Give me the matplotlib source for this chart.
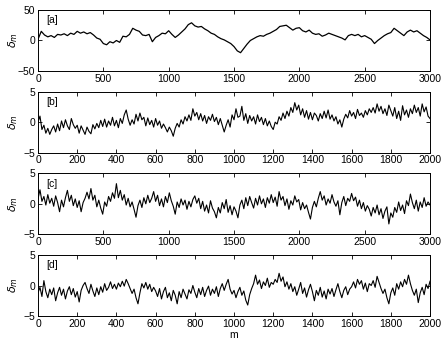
import matplotlib
matplotlib.use('Agg')
import matplotlib.pyplot as plt
import numpy as np

plt.rcParams['font.family'] = ['Liberation Sans', 'DejaVu Sans']
plt.rcParams['mathtext.fontset'] = 'dejavusans'

# ---------------------------------------------------------
# Data (values at regular m steps)
# ---------------------------------------------------------
# panel [a]: m = 0, 25, ..., 3000
delta_a = [
    2, 15, 9, 6, 8, 5, 10, 9, 11, 8, 12, 10, 15, 12, 14, 11, 13, 9, 4, 2,
    -5, -7, -2, -4, 0, -3, 7, 6, 10, 20, 17, 15, 9, 8, 10, -2, 5, 8, 12, 11,
    16, 10, 5, 9, 14, 19, 26, 29, 24, 22, 23, 19, 16, 12, 10, 6, 3, 1, -2, -5,
    -10, -17, -20, -13, -6, 0, 3, 6, 8, 7, 10, 12, 15, 18, 23, 24, 25, 21, 17, 20,
    21, 16, 14, 17, 12, 10, 11, 7, 9, 12, 10, 8, 6, 4, 1, 8, 10, 8, 10, 6,
    8, 5, 2, -5, 0, 4, 8, 11, 13, 20, 16, 12, 8, 14, 17, 14, 16, 12, 8, 5,
    1,
]

# panel [b]: m = 0, 10, ..., 2000
delta_b = [
    0, 1.0, -1.2, -0.5, -1.8, -1.0, -2.0, -1.2, -0.6, -1.6,
    -0.3, -1.4, 0.2, -0.9, 0.4, -0.6, -1.2, 0.6, -0.4, -1.0,
    -0.5, -1.8, -0.6, -1.3, -2.0, -0.8, -1.5, -1.9, -0.4, -1.1,
    -0.2, -0.9, 0.3, -0.7, 0.5, -0.8, 0.2, -0.5, 0.8, -0.6,
    0.3, -0.9, 0.6, -0.2, 1.2, 2.0, 0.5, -0.5, 0.4, -0.3,
    1.3, 0.2, 1.5, 0.4, 0.8, -0.6, 0.7, -0.4, 0.3, -0.8,
    0.6, -0.5, 0.2, -1.0, -0.3, -0.9, -1.6, -0.8, -1.4, -2.3,
    -1.0, -0.2, -0.8, 0.4, -0.3, 0.9, 0.2, 1.2, 0.3, 2.2,
    1.0, 1.6, 0.4, 1.4, 0.2, 1.1, -0.2, 0.9, 0.3, 1.3,
    0.1, 0.8, -0.4, 0.6, -0.5, -1.6, -0.5, 0.4, -0.8, 1.2,
    0.4, 2.2, 0.8, 1.0, 2.6, 0.3, 1.4, -0.2, 1.1, 0.2,
    0.9, -0.3, 1.2, 0.1, 0.8, -0.4, 0.6, -0.6, 0.2, -0.7,
    -1.2, 0.0, -0.3, 0.9, 0.3, 1.5, 0.6, 1.8, 1.0, 2.4,
    1.6, 3.2, 2.0, 2.8, 1.2, 2.2, 0.8, 1.9, 0.5, 1.6,
    0.4, 1.5, 1.1, 0.2, 1.4, 0.6, 1.8, 0.7, 2.0, 0.5,
    1.2, 0.2, 0.9, -0.3, 0.4, -0.8, 0.5, 1.3, 0.7, 1.9,
    1.0, 1.6, 0.6, 2.1, 1.1, 1.5, 0.8, 1.9, 1.2, 2.2,
    1.6, 2.4, 1.5, 3.0, 1.8, 2.6, 1.4, 2.2, 1.1, 2.8,
    1.9, 1.0, 2.4, 0.6, 1.8, 0.3, 2.7, 1.2, 2.0, 0.8,
    2.2, 1.4, 2.8, 1.6, 2.4, 1.0, 3.0, 1.7, 2.5, 1.0,
    0.6,
]

# panel [c]: m = 0, 15, ..., 3000
delta_c = [
    0.8, 2.3, 0.4, 1.2, -0.2, 1.5, 0.1, 0.9, -0.4, 1.3,
    0.2, -1.3, 0.6, -0.5, 1.0, 2.2, 0.4, 1.4, -0.3, 0.8,
    -0.6, 0.5, -1.3, 0.2, 0.9, 1.9, 0.8, 2.5, 0.6, 1.4,
    -0.5, 0.6, -0.7, -1.7, 0.3, -0.4, 1.2, 0.4, 1.8, 0.9,
    3.3, 1.0, 2.2, 0.6, 1.5, -0.2, 0.9, -0.5, 0.3, -0.9,
    -2.2, -0.3, 0.6, -0.6, 1.0, 0.0, 1.4, 0.2, 0.9, 2.0,
    0.4, 1.4, -0.3, 0.8, -0.5, 1.2, 0.2, 1.8, 0.5, -0.4,
    -1.7, 0.3, -0.6, 0.8, -0.2, 0.6, -0.9, 0.4, -0.5, 0.7,
    1.3, 0.1, 0.9, -0.8, 0.4, -1.2, -0.2, -1.5, 0.5, -0.7,
    -1.3, -2.3, -0.6, -1.5, 0.2, -0.8, 0.7, -1.4, -0.3, -1.8,
    -0.5, -1.2, -2.3, -0.2, 0.6, -0.8, 1.0, -0.3, 1.2, 0.2,
    -0.7, 0.9, -0.2, 1.3, 0.0, 0.8, -0.6, 1.0, 0.1, 1.5,
    0.2, 1.1, -0.4, 2.0, 0.6, 1.2, -0.3, 0.8, -0.9, 0.5,
    -0.2, 1.3, 0.3, 0.7, -1.0, 0.2, -0.8, -0.2, -1.4, -2.5,
    -0.6, 0.4, -0.5, 0.9, 2.0, 0.6, 1.3, -0.2, 0.8, 0.1,
    1.5, 0.3, -0.4, 0.5, -1.8, 0.2, 1.2, -0.3, 0.9, 0.4,
    1.7, 0.5, 1.1, -0.4, 0.6, -0.8, 0.2, -1.2, -0.3, -0.9,
    -2.0, -0.6, -1.5, -0.2, -1.8, -0.8, -2.4, -1.2, -0.5, -3.3,
    -1.5, -2.2, -0.6, -1.4, 0.3, -1.1, -0.2, -1.6, 0.5, -0.3,
    1.6, 0.2, -0.8, 0.6, -1.2, 0.3, -0.6, 1.0, -0.4, 0.3,
    -0.2,
]

# panel [d]: m = 0, 10, ..., 2000
delta_d = [
    -1.2, -0.3, -1.8, 0.8, -1.0, -2.0, -0.6, -1.5, -0.4, -2.5,
    -1.2, -0.3, -1.6, -0.6, -2.2, -0.9, -0.2, -1.5, -0.5, -1.9,
    -1.0, -2.7, -0.8, 0.0, 0.5, -0.5, -1.3, 0.2, -0.9, -1.8,
    -0.4, -1.5, -0.2, -1.1, 0.3, -0.8, -0.3, 0.6, -0.5, 0.2,
    -0.6, 0.4, -0.2, 0.7, -0.1, 1.0, 0.3, -0.5, -1.3, -0.6,
    -2.0, -3.0, -1.2, 0.3, -0.4, 0.5, -0.6, 0.2, -1.0, -0.3,
    -0.9, -1.8, -0.5, -2.2, -1.0, -0.3, -2.0, -1.2, -2.5, -0.8,
    -1.6, -3.0, -1.0, -2.0, -0.6, -1.4, -2.2, -0.7, -1.3, 0.0,
    -1.1, -2.0, -0.5, -1.5, -0.3, -1.8, -0.8, -0.1, -1.6, -0.6,
    -1.3, -0.2, -1.8, -0.5, 0.3, -0.8, 0.2, 1.0, -0.6, -1.4,
    -0.8, -2.0, -1.0, -0.3, -1.6, -0.9, -2.4, -3.2, -1.5, -0.5,
    0.3, 1.7, 0.2, 0.9, -0.5, 0.6, 0.0, 1.2, -0.3, 0.5,
    0.2, 1.0, 0.5, 2.0, 0.7, 1.4, -0.2, 0.6, -0.6, 0.3,
    -1.0, -0.2, -1.6, -0.6, 0.5, -1.3, -0.4, -1.9, -0.7, 0.2,
    -1.0, -2.5, -0.8, -1.6, -0.3, -1.9, -0.9, -2.2, -0.6, -1.4,
    -0.5, -1.8, -0.7, 0.3, -1.0, -2.0, -0.8, -0.2, -1.5, -0.6,
    -0.2, 0.6, -0.4, 1.0, 0.2, 0.8, -0.6, 0.4, -1.0, 0.3,
    0.0, 0.8, -0.3, 1.5, 0.5, -0.5, -1.3, -0.6, -2.0, -3.0,
    -1.2, -0.4, -1.6, 0.3, -0.6, 0.6, -0.2, 1.0, 0.2, 1.7,
    0.3, -0.8, -1.6, -0.6, -2.8, -1.2, -0.3, -1.5, 0.2, -0.5,
    0.7,
]

panels = [
    ('[a]', delta_a, 3000, 500, 50),
    ('[b]', delta_b, 2000, 200, 5),
    ('[c]', delta_c, 3000, 500, 5),
    ('[d]', delta_d, 2000, 200, 5),
]

fig = plt.figure(figsize=(4.43, 3.42), dpi=100)
bottoms = [0.7924, 0.5535, 0.3149, 0.0760]

for (tag, vals, mmax, step, ylim), b in zip(panels, bottoms):
    ax = fig.add_axes([0.0858, b, 0.8849, 0.1784])
    m = np.linspace(0, mmax, len(vals))
    lw = 0.9 if ylim == 50 else 0.8
    ax.plot(m, vals, color='black', linewidth=lw)
    ax.set_xlim(0, mmax)
    ax.set_ylim(-ylim, ylim)
    ax.set_xticks(np.arange(0, mmax + 1, step))
    ax.set_yticks([-ylim, 0, ylim])
    ax.tick_params(direction='in', top=True, right=True, length=3,
                   width=0.6, labelsize=7.5, pad=2)
    for s in ax.spines.values():
        s.set_linewidth(0.7)
    ax.text(0.022, 0.83, tag, transform=ax.transAxes, fontsize=7.5, va='center')
    ax.set_ylabel(r'$\delta_m$', fontsize=8)
    ax.yaxis.set_label_coords(-0.045, 0.5)

ax.set_xlabel('m', fontsize=7.5, labelpad=1)

plt.savefig('out.png', dpi=100)
